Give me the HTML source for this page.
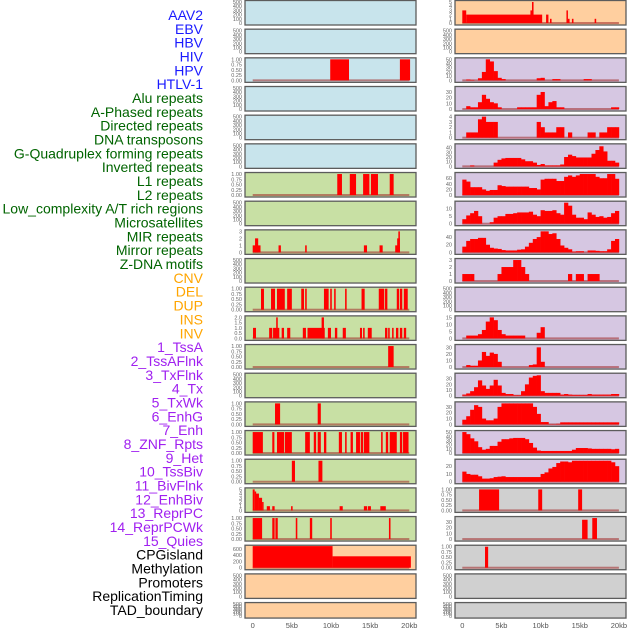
<!DOCTYPE html>
<html><head><meta charset="utf-8"><style>
html,body{margin:0;padding:0;background:#fff;}
svg{display:block;font-family:"Liberation Sans",sans-serif;}
</style></head><body>
<svg id="chart" width="630" height="630" viewBox="0 0 630 630" xmlns="http://www.w3.org/2000/svg"></svg>
<script>
// ---- data ----
const trackLabels = ["AAV2","EBV","HBV","HIV","HPV","HTLV-1","Alu repeats","A-Phased repeats","Directed repeats","DNA transposons","G-Quadruplex forming repeats","Inverted repeats","L1 repeats","L2 repeats","Low_complexity A/T rich regions","Microsatellites","MIR repeats","Mirror repeats","Z-DNA motifs","CNV","DEL","DUP","INS","INV","1_TssA","2_TssAFlnk","3_TxFlnk","4_Tx","5_TxWk","6_EnhG","7_Enh","8_ZNF_Rpts","9_Het","10_TssBiv","11_BivFlnk","12_EnhBiv","13_ReprPC","14_ReprPCWk","15_Quies","CPGisland","Methylation","Promoters","ReplicationTiming","TAD_boundary"];
const labelGroups = ["v","v","v","v","v","v","r","r","r","r","r","r","r","r","r","r","r","r","r","s","s","s","s","s","c","c","c","c","c","c","c","c","c","c","c","c","c","c","c","o","o","o","o","o"];
const xTickVals = [0,5,10,15,20];
const xTickLabels = ["0","5kb","10kb","15kb","20kb"];

// left column: segments [startKb, endKb, value]
const L0 = [], L1 = [], L3 = [], L4 = [], L5 = [], L7 = [], L9 = [], L13 = [], L20 = [], L21 = [];
const L2 = [[9.9,12.3,1],[18.8,20.1,1]];
const L6 = [[10.8,11.4,1],[12.4,13.2,1],[14.1,14.9,1],[15.1,16.0,1],[17.5,18.0,1]];
const L8 = [[0,1,1],[0.3,0.7,2],[3.3,3.6,1],[6.7,6.9,1],[14.2,14.6,1],[16.2,16.6,1],[18.2,18.8,1],[18.45,18.8,2],[18.6,18.8,3]];
const L10 = [[1.06,1.44,1],[2.34,2.85,1],[3.1,4.1,1],[4.4,5.0,1],[6.2,6.55,1],[6.7,6.9,1],[9.1,9.7,1],[9.9,10.1,1],[10.4,10.6,1],[11.8,12.0,1],[13.9,14.3,1],[16.1,16.8,1],[16.9,17.2,1],[18.4,18.7,1],[18.8,19.1,1],[19.3,19.8,1]];
const L11 = [[0.04,0.42,1],[2.1,2.5,1],[2.6,3.4,1],[3.0,3.2,2],[3.7,4.0,1],[4.4,4.8,1],[6.4,6.8,1],[7.0,9.2,1],[8.8,9.1,2],[9.6,10.0,1],[10.5,10.8,1],[11.5,11.9,1],[13.7,13.96,1],[14.1,14.3,1],[14.7,15.2,1],[16.9,17.2,1],[17.3,17.5,1],[17.8,18.0,1],[18.3,18.6,1],[18.8,19.1,1],[19.3,19.6,1]];
const L12 = [[17.3,18.0,1]];
const L14 = [[2.85,3.5,1],[8.3,8.7,1]];
const L15 = [[0,1.3,1],[2.5,2.77,1],[3.1,4.0,1],[4.1,5.0,1],[6.7,7.3,1],[7.8,8.1,1],[8.3,8.7,1],[9.1,9.4,1],[11.0,11.4,1],[11.8,12.0,1],[12.5,12.8,1],[13.2,13.7,1],[13.8,14.1,1],[14.2,14.9,1],[16.4,16.6,1],[17.0,17.3,1],[17.5,18.4,1],[18.8,19.1,1],[19.2,19.9,1]];
const L16 = [[5.0,5.4,1],[8.4,8.9,1]];
const L17 = [[0,0.25,5],[0.25,0.4,4.5],[0.4,0.8,4],[0.8,1.2,3],[1.2,1.3,2],[1.8,2.2,1],[2.5,2.8,1],[4.9,5.1,1],[11.1,11.5,1],[14.2,14.6,1],[14.7,15.1,1],[16.3,17.0,1]];
const L18 = [[0,1.2,1],[2.5,2.8,1],[2.9,3.2,1],[5.5,5.7,1],[7.3,7.6,1],[9.9,10.1,1],[17.4,17.6,1]];
const L19 = [[0,10.2,700],[10.2,20.2,362]];

// right column: 0.5kb bin values (40 bins) or segments
const R0 = [[0,0.5,3],[0.5,10.2,2],[8.7,8.9,3],[8.9,9.1,5],[10.7,11.0,2],[11.2,11.4,1],[13.3,13.45,3],[13.45,13.7,1],[14.0,14.2,1],[16.9,17.1,1]];
const R1 = [];
const R2 = [0,2,1,0,5,20,50,45,22,6,3,0,0,0,0,0,0,0,0,5,6,0,0,3,3,0,0,0,0,0,0,3,3,0,0,0,0,0,0,0];
const R3 = [0,5,3,3,12,25,18,12,10,3,0,0,0,0,3,3,3,3,3,25,30,5,12,14,3,3,0,0,0,0,0,0,0,0,0,0,0,0,3,3];
const R4 = [0,1,1,1,3.5,4,3,3,3,0,0,0,0,0,0,0,0,0,0,3,2,1,1,1,2,2,0,1,0,0,0,0,1,1,0,1,1,2,2,2];
const R5 = [0,0,2,0,0,0,0,0,8,14,17,18,18,18,18,15,11,11,8,3,5,2,2,2,2,4,20,25,22,19,19,19,19,27,35,43,32,12,12,8];
const R6 = [55,48,28,28,28,20,15,18,18,35,32,30,30,30,30,30,30,25,25,20,55,58,58,58,50,50,65,70,65,70,75,75,75,75,65,60,60,75,75,58];
const R7 = [3,5.5,7,8.5,5,0,0,1,4,5,5,6.5,6.5,7,7.5,7.5,7.5,8,6,5,9,8.5,8.5,9,7,6,14,12,6,4,4,3,7.5,6,4.5,5,4,4.5,7,8.5];
const R8 = [15,30,35,35,38,38,20,12,10,9,6,5,5,5,7,8,15,25,35,40,55,55,48,50,35,18,12,8,2,3,3,0,5,5,4,3,3,8,30,35];
const R9 = [1,1,1,0,0,0,0,0,0,1,2,2,2,3,3,2,1,0,0,0,0,0,0,0,0,0,0,1,0,1,1,0,1,1,1,0,0,0,0,0];
const R10 = [];
const R11 = [0,2,2,2,3,6,12,15,13,6,3,2,2,2,2,2,0,0,0,4,8,0,0,0,0,0,0,0,0,0,0,0,0,0,0,0,0,0,0,0];
const R12 = [0,3,2,2,10,23,17,22,20,8,0,0,0,0,0,0,0,3,4,30,8,0,0,0,0,0,0,0,0,0,0,0,0,0,0,0,0,0,0,0];
const R13 = [2,4,8,15,27,18,12,18,28,18,5,3,3,1,1,8,20,32,35,36,8,5,5,5,5,2,3,2,1.5,1.5,1.5,1.5,3,2,2,2,2,2,3,3];
const R14 = [8,14,25,33,30,10,7,7,10,30,36,36,36,36,36,36,36,36,30,18,4,4,0.5,0.5,1,3.5,3.5,3.5,3.5,3.5,3.5,3.5,3.5,3.5,3.5,3.5,3.5,3.5,3.5,3.5];
const R15 = [50,45,35,28,14,8,10,17,17,27,33,33,35,36,36,36,33,24,13,6,5,5,5,5,5,5,5,5,8,12,12,12,11,10,10,10,10,10,9,10];
const R16 = [13,10,9,9,7,4,4,4.5,6,6.5,7,6,6,6,6,6,6,6,6,6,10,12,17,19,24,26,26,25,27,27,27,27,27,27,27,27,27,27,25,20];
const R17 = [[2.14,4.7,1],[9.7,10.2,1],[14.8,15.3,1]];
const R18 = [[15.3,16.0,34],[16.6,17.2,37]];
const R19 = [[2.9,3.3,1]];
const R20 = [], R21 = [];

const T500 = ["0","100","200","300","400","500"];
const T1 = ["0.00","0.25","0.50","0.75","1.00"];

// ---- layout / styles ----
const BG = {b:"#c8e4ec", g:"#c8e0a4", o:"#ffcf9f", p:"#d6c7e2", k:"#d0d0d0"};
const leftBg = ["b","b","b","b","b","b","g","g","g","g","g","g","g","g","g","g","g","g","g","o","o","o"];
const rightBg = ["o","o","p","p","p","p","p","p","p","p","p","p","p","p","p","p","p","k","k","k","k","k"];
const leftData = [L0,L1,L2,L3,L4,L5,L6,L7,L8,L9,L10,L11,L12,L13,L14,L15,L16,L17,L18,L19,L20,L21];
const rightData = [R0,R1,R2,R3,R4,R5,R6,R7,R8,R9,R10,R11,R12,R13,R14,R15,R16,R17,R18,R19,R20,R21];
const leftTicks = [T500,T500,T1,T500,T500,T500,T1,T500,["0","1","2","3"],T500,T1,["0.0","0.5","1.0","1.5","2.0"],T1,T500,T1,T1,T1,["0","1","2","3","4","5"],T1,["0","200","400","600"],T500,T500];
const leftMax = [500,500,1,500,500,500,1,500,3,500,1,2,1,500,1,1,1,5,1,665,500,500];
const rightTicks = [["0","1","2","3","4","5"],T500,["0","10","20","30","40","50"],["0","10","20","30"],["0","1","2","3","4"],["0","10","20","30","40"],["0","20","40","60"],["0","5","10"],["0","20","40"],["0","1","2","3"],T500,["0","5","10","15"],["0","10","20","30"],["0","10","20","30"],["0","10","20","30"],["0","10","20","30","40","50"],["0","10","20"],T1,["0","10","20","30"],T1,T500,T500];
const rightMax = [5,500,50,37,4,45,75,14,55,3,500,15,32,37,36,50,27,1,37,1,500,500];

const NS = "http://www.w3.org/2000/svg";
const svg = document.getElementById("chart");
function mk(tag, attrs, parent){
  const e = document.createElementNS(NS, tag);
  for (const k in attrs) e.setAttribute(k, attrs[k]);
  (parent||svg).appendChild(e);
  return e;
}

const COLS = [
  {x0:245, x1:416, z0:252.7, bg:leftBg, data:leftData, ticks:leftTicks, max:leftMax, side:"left"},
  {x0:455, x1:626, z0:462.3, bg:rightBg, data:rightData, ticks:rightTicks, max:rightMax, side:"right"}
];
const KBPX = 7.83;

COLS.forEach(col => {
  const xs = kb => col.z0 + kb * KBPX;
  for (let i = 0; i < 22; i++) {
    const top = i * 28.67 + 0.5;
    const h = i === 21 ? 15.5 : 24.5;
    const bottom = top + h;
    const max = col.max[i];
    const ys = v => bottom - 2 - Math.min(v, max * 1.03) / max * (h - 3.5);
    const g = mk("g", {});
    
    
    const bg = mk("rect", {x:col.x0, y:top, width:col.x1-col.x0, height:h, fill:BG[col.bg[i]]}, g);
    
    
    const d = col.data[i];
    if (d.length) {
      const base = mk("rect", {x:xs(0), y:bottom-3, width:xs(20)-xs(0), height:2, fill:"rgba(160,40,40,0.55)"}, g);
      
      
      if (typeof d[0] === "number") {
        d.forEach((v, k) => {
          if (v <= 0) return;
          const y = ys(v);
          const r = mk("rect", {x:xs(k*0.5), y:y, width:xs(k*0.5+0.5)-xs(k*0.5)+0.3, height:bottom-2-y, fill:"#ff0000"}, g);
          
          
        });
      } else {
        d.forEach(s => {
          const y = ys(s[2]);
          const r = mk("rect", {x:xs(s[0]), y:y, width:Math.max(1.5, xs(s[1])-xs(s[0])), height:bottom-2-y, fill:"#ff0000"}, g);
          
          
        });
      }
    }
    const bd = mk("rect", {x:col.x0, y:top, width:col.x1-col.x0, height:h, fill:"none", stroke:"#5c5c5c", "stroke-width":1.3}, g);
    
    
    const tk = col.ticks[i];
    tk.forEach(lbl => {
      const v = parseFloat(lbl);
      const t = mk("text", {x:col.x0-3, y:ys(v)+2, "font-size":5.5, fill:"#666", "text-anchor":"end"}, g);
      t.textContent = lbl;
      
      
    });
  }
  xTickVals.forEach((v, j) => {
    const t = mk("text", {x:xs(v), y:628, "font-size":7.5, fill:"#555", "text-anchor":"middle"});
    t.textContent = xTickLabels[j];
    
    
  });
});

const GC = {v:"#1a1aff", r:"#006400", s:"#ffa500", c:"#a020f0", o:"#000000"};
trackLabels.forEach((lbl, i) => {
  const y = 15 + i * (595 / 43);
  const t = mk("text", {x:203, y:y+5, "font-size":14, fill:GC[labelGroups[i]], "text-anchor":"end"});
  t.textContent = lbl;
  
  
});
</script>
</body></html>
